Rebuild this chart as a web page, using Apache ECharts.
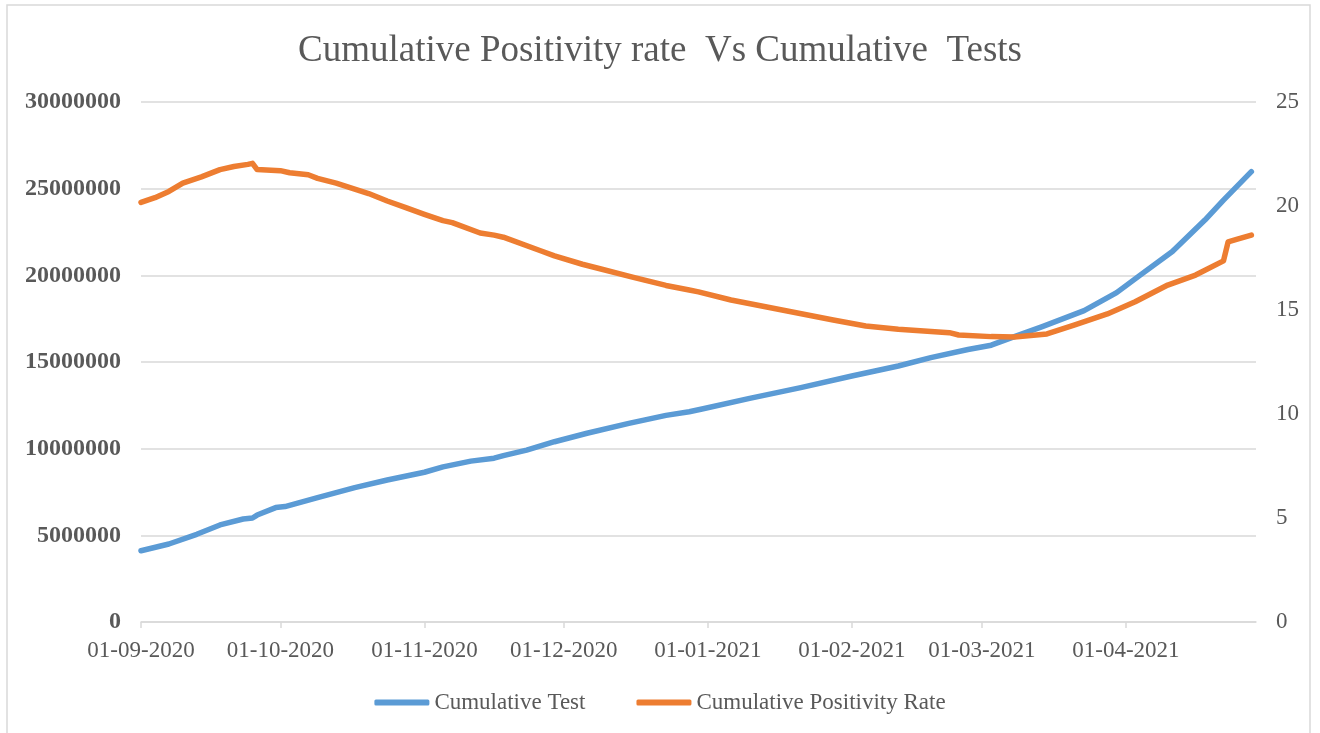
<!DOCTYPE html>
<html>
<head>
<meta charset="utf-8">
<title>Cumulative Positivity rate Vs Cumulative Tests</title>
<script src="https://cdn.jsdelivr.net/npm/echarts@6/dist/echarts.min.js"></script>
<style>
  html, body { margin: 0; padding: 0; background: #fff; }
  #chart { width: 1320px; height: 733px; }
</style>
</head>
<body>
<div id="chart"></div>
<script>
// readings (cumulative tests)
const testDates = [
  '2020-09-01', '2020-09-07', '2020-09-13', '2020-09-18', '2020-09-23', '2020-09-25',
  '2020-09-26', '2020-09-30', '2020-10-02', '2020-10-09', '2020-10-17', '2020-10-24',
  '2020-11-01', '2020-11-05', '2020-11-11', '2020-11-16', '2020-11-18', '2020-11-23',
  '2020-11-29', '2020-12-06', '2020-12-15', '2020-12-23', '2020-12-28', '2020-12-31',
  '2021-01-10', '2021-01-21', '2021-02-01', '2021-02-11', '2021-02-18', '2021-02-26',
  '2021-03-03', '2021-03-08', '2021-03-14', '2021-03-23', '2021-03-30', '2021-04-04',
  '2021-04-11', '2021-04-18', '2021-04-22', '2021-04-28'
]
const testValues = [
  4110000, 4500000, 5060000, 5600000, 5940000, 6000000,
  6170000, 6600000, 6660000, 7170000, 7750000, 8190000,
  8640000, 8950000, 9280000, 9450000, 9600000, 9920000,
  10400000, 10890000, 11460000, 11920000, 12130000, 12300000,
  12900000, 13520000, 14190000, 14770000, 15250000, 15720000,
  15970000, 16460000, 17040000, 17960000, 19000000, 20000000,
  21370000, 23190000, 24340000, 25980000
]

// cumulative positivity rate (%)
const rateDates = [
  '2020-09-01', '2020-09-04', '2020-09-07', '2020-09-10', '2020-09-14', '2020-09-18',
  '2020-09-21', '2020-09-24', '2020-09-25', '2020-09-26', '2020-10-01', '2020-10-03',
  '2020-10-07', '2020-10-09', '2020-10-13', '2020-10-20', '2020-10-24', '2020-10-28',
  '2020-11-01', '2020-11-05', '2020-11-07', '2020-11-13', '2020-11-16', '2020-11-18',
  '2020-11-26', '2020-11-29', '2020-12-05', '2020-12-09', '2020-12-16', '2020-12-23',
  '2020-12-28', '2020-12-30', '2021-01-06', '2021-01-17', '2021-01-28', '2021-02-04',
  '2021-02-11', '2021-02-22', '2021-02-24', '2021-03-03', '2021-03-08', '2021-03-15',
  '2021-03-21', '2021-03-28', '2021-04-03', '2021-04-10', '2021-04-16', '2021-04-22',
  '2021-04-23', '2021-04-25', '2021-04-28'
]
const rateValues = [
  20.17, 20.4, 20.7, 21.1, 21.4, 21.75,
  21.9, 22.0, 22.05, 21.75, 21.7, 21.6,
  21.5, 21.33, 21.1, 20.6, 20.24, 19.92,
  19.6, 19.3, 19.2, 18.7, 18.6, 18.5,
  17.85, 17.6, 17.2, 16.97, 16.57, 16.18,
  15.96, 15.87, 15.48, 15.0, 14.52, 14.23,
  14.07, 13.91, 13.8, 13.72, 13.7, 13.85,
  14.28, 14.81, 15.4, 16.2, 16.68, 17.36,
  18.28, 18.41, 18.6
]

const leftTicks = { min: 0, max: 30000000, interval: 5000000 }
const rightTicks = { min: 0, max: 25, interval: 5 }

const serif = 'Liberation Serif'
const grey = '#595959'
const lineGrey = '#d9d9d9'

function pad(n) {
  return n < 10 ? '0' + n : '' + n
}

const chart = echarts.init(document.getElementById('chart'))
chart.setOption({
  animation: false,
  backgroundColor: '#fff',
  graphic: [
    {
      type: 'rect',
      shape: { x: 7, y: 5, width: 1303, height: 760 },
      style: { fill: 'none', stroke: lineGrey, lineWidth: 1.5 },
      silent: true
    }
  ],
  title: {
    text: 'Cumulative Positivity rate  Vs Cumulative  Tests',
    left: 'center',
    top: 28,
    textStyle: {
      fontFamily: serif,
      fontSize: 37,
      fontWeight: 'normal',
      color: grey
    }
  },
  legend: {
    bottom: 14,
    left: 'center',
    icon: 'roundRect',
    itemWidth: 55,
    itemHeight: 6,
    itemGap: 51,
    textStyle: { fontFamily: serif, fontSize: 23, color: grey }
  },
  grid: { left: 141, right: 64, top: 102, bottom: 111 },
  xAxis: {
    type: 'time',
    min: '2020-09-01',
    max: '2021-04-29',
    splitNumber: 8,
    axisLine: { lineStyle: { color: lineGrey, width: 1.5 } },
    axisTick: { show: true, length: 6, lineStyle: { color: lineGrey, width: 1.5 } },
    splitLine: { show: false },
    axisLabel: {
      fontFamily: serif,
      fontSize: 23,
      color: grey,
      margin: 17,
      formatter: function (v) {
        const d = new Date(v)
        return pad(d.getDate()) + '-' + pad(d.getMonth() + 1) + '-' + d.getFullYear()
      }
    }
  },
  yAxis: [
    {
      type: 'value',
      min: leftTicks.min,
      max: leftTicks.max,
      interval: leftTicks.interval,
      axisLine: { show: false },
      axisTick: { show: false },
      splitLine: { lineStyle: { color: lineGrey, width: 1.5 } },
      axisLabel: {
        fontFamily: serif,
        fontSize: 24,
        fontWeight: 'bold',
        color: grey,
        margin: 20,
        formatter: function (v) {
          return String(v)
        }
      }
    },
    {
      type: 'value',
      min: rightTicks.min,
      max: rightTicks.max,
      interval: rightTicks.interval,
      axisLine: { show: false },
      axisTick: { show: false },
      splitLine: { show: false },
      axisLabel: {
        fontFamily: serif,
        fontSize: 23,
        color: grey,
        margin: 20
      }
    }
  ],
  series: [
    {
      name: 'Cumulative Test',
      type: 'line',
      yAxisIndex: 0,
      showSymbol: false,
      color: '#5b9bd5',
      lineStyle: { width: 5.5, cap: 'round', join: 'round' },
      data: testDates.map((d, i) => [d, testValues[i]])
    },
    {
      name: 'Cumulative Positivity Rate',
      type: 'line',
      yAxisIndex: 1,
      showSymbol: false,
      color: '#ed7d31',
      lineStyle: { width: 5.5, cap: 'round', join: 'round' },
      data: rateDates.map((d, i) => [d, rateValues[i]])
    }
  ]
})
</script>
</body>
</html>
